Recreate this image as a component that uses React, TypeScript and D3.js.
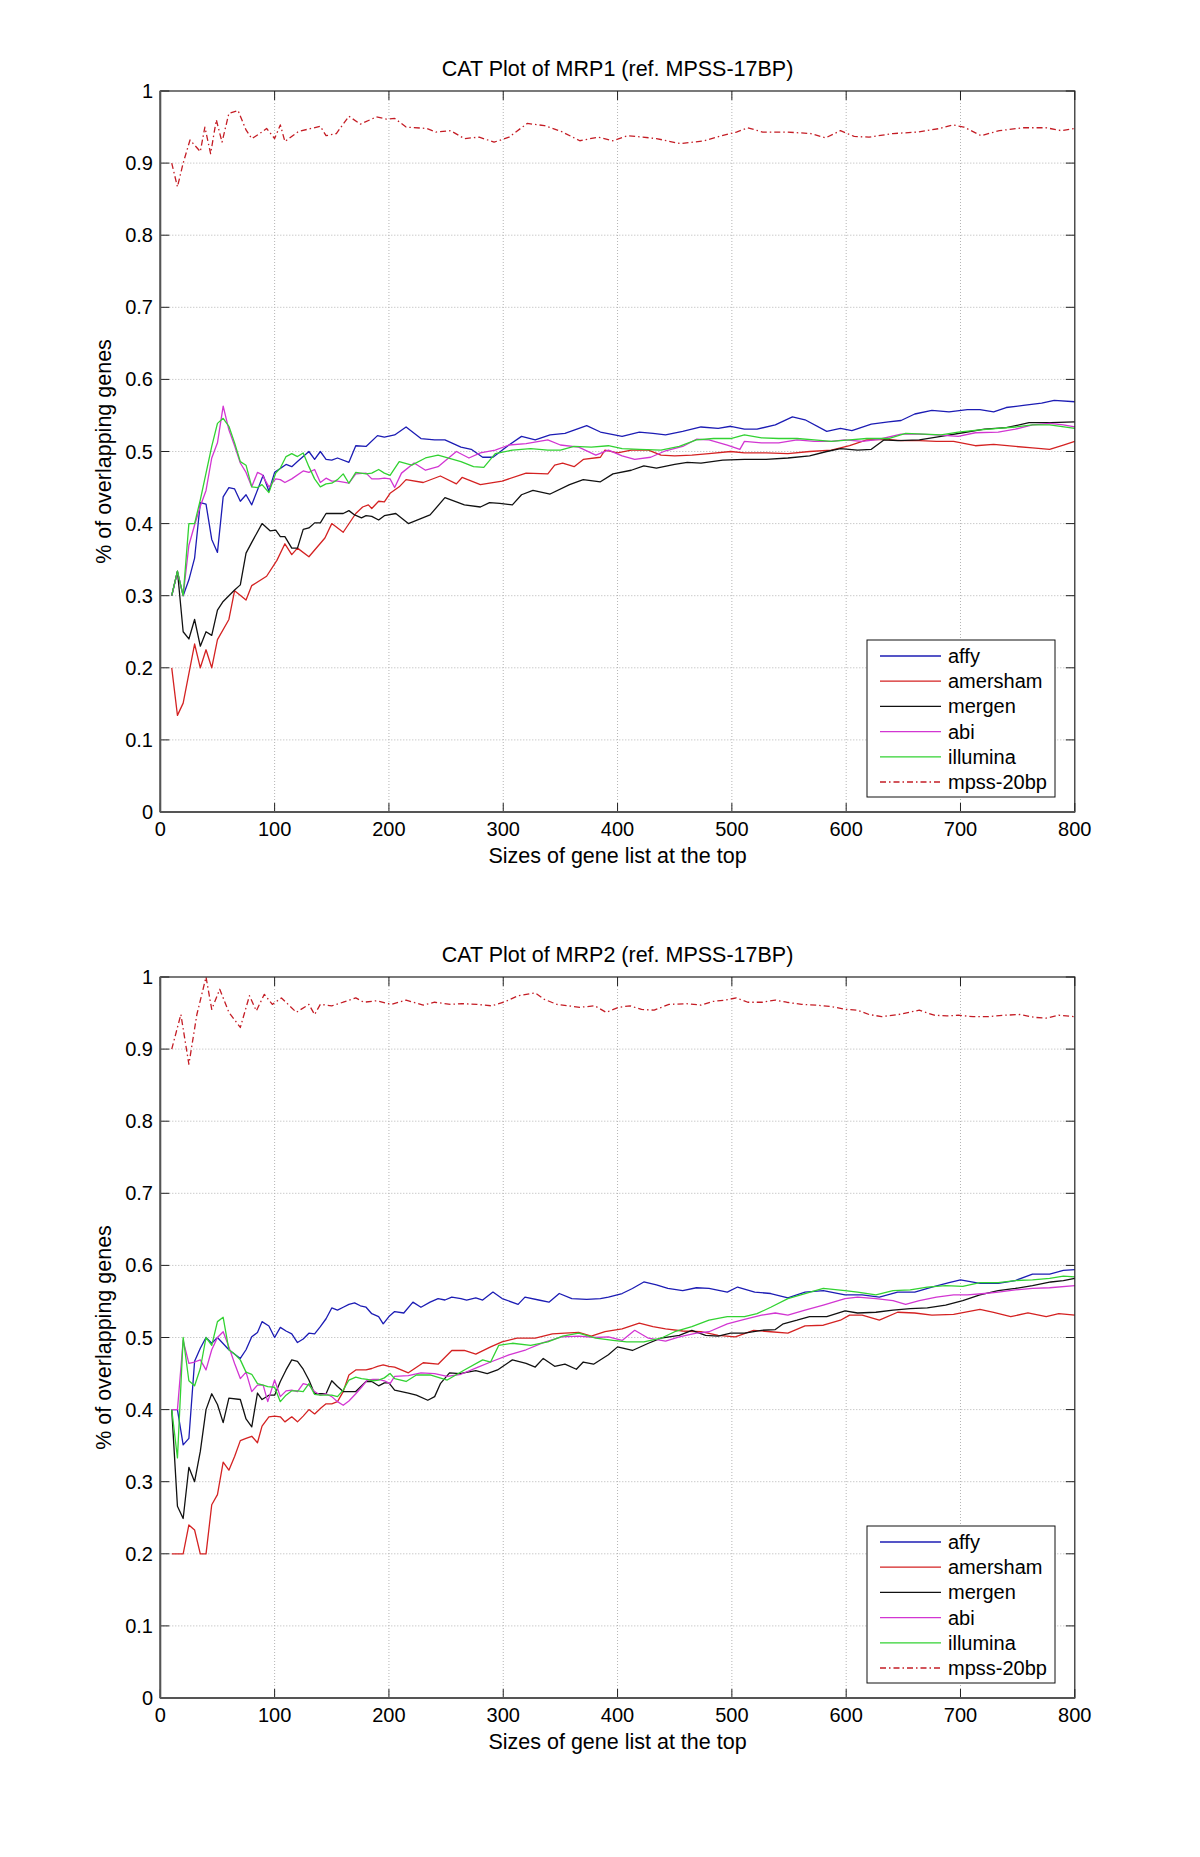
import React from "react";
import * as d3 from "d3";

type Pt = [number, number];

// ---------- axis ticks ----------
const xTickValues = [0, 100, 200, 300, 400, 500, 600, 700, 800];
const yTickValues = [0, 0.1, 0.2, 0.3, 0.4, 0.5, 0.6, 0.7, 0.8, 0.9, 1];
const yTickLabels = ["0", "0.1", "0.2", "0.3", "0.4", "0.5", "0.6", "0.7", "0.8", "0.9", "1"];

// ---------- legend ----------
const seriesNames = ["affy", "amersham", "mergen", "abi", "illumina", "mpss-20bp"];
const seriesColors = ["#1c1cb4", "#d42222", "#111111", "#d236d2", "#32d232", "#c41c24"];

// ---------- MRP1 (top) ----------
const mrp1Affy: Pt[] = [[10,0.3],[15,0.333],[20,0.3],[25,0.322],[30,0.352],[35,0.429],[40,0.427],[45,0.378],[50,0.36],[55,0.437],[60,0.45],[65,0.448],[70,0.431],[75,0.44],[80,0.426],[90,0.467],[95,0.445],[100,0.471],[110,0.482],[115,0.479],[120,0.486],[130,0.5],[135,0.489],[140,0.5],[145,0.489],[150,0.488],[155,0.491],[165,0.485],[171,0.508],[180,0.507],[190,0.522],[196,0.52],[205,0.523],[215,0.534],[228,0.518],[240,0.516],[249,0.516],[263,0.506],[272,0.503],[282,0.492],[291,0.492],[305,0.509],[316,0.521],[328,0.516],[341,0.523],[354,0.525],[373,0.536],[385,0.527],[404,0.521],[419,0.527],[431,0.525],[442,0.523],[457,0.528],[473,0.534],[488,0.532],[499,0.535],[511,0.531],[522,0.531],[538,0.537],[553,0.548],[564,0.544],[583,0.528],[595,0.532],[605,0.529],[622,0.538],[637,0.541],[648,0.543],[660,0.552],[675,0.557],[690,0.555],[706,0.558],[717,0.558],[729,0.555],[740,0.561],[755,0.564],[771,0.567],[782,0.571],[800,0.569]];
const mrp1Amersham: Pt[] = [[10,0.2],[15,0.134],[20,0.151],[30,0.233],[35,0.2],[40,0.225],[45,0.2],[50,0.239],[60,0.267],[65,0.307],[75,0.294],[80,0.314],[93,0.327],[102,0.349],[109,0.372],[115,0.357],[120,0.366],[130,0.354],[144,0.38],[150,0.4],[160,0.388],[171,0.414],[177,0.423],[182,0.426],[185,0.421],[191,0.431],[196,0.43],[201,0.442],[209,0.451],[215,0.461],[230,0.457],[245,0.466],[259,0.455],[264,0.464],[280,0.454],[299,0.459],[320,0.47],[339,0.469],[345,0.481],[352,0.484],[362,0.479],[370,0.489],[385,0.492],[389,0.502],[400,0.498],[412,0.502],[427,0.502],[438,0.495],[450,0.494],[465,0.495],[480,0.497],[499,0.5],[511,0.498],[530,0.498],[549,0.497],[568,0.5],[587,0.502],[603,0.508],[618,0.516],[633,0.517],[648,0.515],[664,0.515],[679,0.514],[694,0.514],[713,0.508],[729,0.51],[748,0.507],[763,0.505],[778,0.503],[790,0.509],[800,0.514]];
const mrp1Mergen: Pt[] = [[10,0.3],[15,0.334],[20,0.25],[25,0.24],[30,0.267],[35,0.23],[40,0.25],[45,0.245],[50,0.28],[55,0.292],[65,0.308],[70,0.315],[75,0.359],[80,0.374],[89,0.4],[96,0.39],[101,0.391],[105,0.382],[109,0.382],[115,0.366],[120,0.366],[125,0.392],[130,0.394],[135,0.401],[140,0.401],[145,0.414],[160,0.414],[165,0.418],[170,0.412],[176,0.408],[180,0.411],[185,0.41],[191,0.405],[196,0.411],[206,0.414],[217,0.4],[236,0.412],[249,0.436],[259,0.43],[266,0.426],[280,0.423],[288,0.429],[297,0.428],[308,0.426],[316,0.44],[326,0.446],[341,0.441],[358,0.454],[370,0.461],[385,0.458],[396,0.469],[412,0.474],[423,0.48],[434,0.477],[450,0.482],[461,0.485],[473,0.484],[492,0.488],[511,0.489],[530,0.489],[549,0.491],[568,0.494],[583,0.5],[595,0.504],[610,0.502],[622,0.503],[633,0.516],[645,0.515],[664,0.516],[683,0.521],[702,0.526],[721,0.531],[740,0.533],[760,0.54],[779,0.54],[800,0.541]];
const mrp1Abi: Pt[] = [[10,0.3],[15,0.333],[20,0.3],[25,0.37],[30,0.398],[35,0.424],[40,0.446],[45,0.491],[50,0.512],[55,0.563],[60,0.53],[65,0.508],[70,0.484],[75,0.471],[80,0.451],[85,0.471],[89,0.468],[95,0.451],[101,0.462],[105,0.461],[109,0.457],[115,0.462],[125,0.473],[130,0.471],[135,0.475],[140,0.457],[145,0.463],[150,0.459],[155,0.459],[165,0.456],[171,0.469],[180,0.47],[185,0.462],[191,0.462],[196,0.463],[201,0.462],[205,0.45],[211,0.47],[222,0.484],[232,0.474],[243,0.479],[259,0.5],[270,0.491],[280,0.498],[293,0.502],[305,0.509],[320,0.511],[339,0.516],[350,0.509],[366,0.506],[381,0.495],[392,0.502],[404,0.494],[415,0.489],[429,0.492],[442,0.501],[457,0.507],[469,0.517],[480,0.516],[496,0.509],[507,0.503],[511,0.514],[526,0.512],[541,0.512],[557,0.516],[572,0.514],[587,0.514],[599,0.516],[614,0.514],[629,0.517],[648,0.524],[664,0.524],[679,0.523],[698,0.521],[713,0.526],[733,0.527],[748,0.531],[763,0.537],[778,0.539],[790,0.537],[800,0.534]];
const mrp1Illumina: Pt[] = [[10,0.3],[15,0.334],[20,0.3],[25,0.4],[30,0.4],[35,0.433],[40,0.47],[45,0.507],[50,0.539],[55,0.546],[60,0.535],[65,0.512],[70,0.486],[75,0.481],[80,0.451],[85,0.45],[89,0.454],[95,0.443],[101,0.47],[105,0.477],[110,0.493],[115,0.497],[120,0.493],[125,0.498],[130,0.479],[135,0.462],[140,0.451],[145,0.455],[150,0.456],[155,0.461],[160,0.469],[165,0.456],[171,0.471],[180,0.469],[185,0.47],[191,0.475],[196,0.47],[201,0.467],[209,0.486],[220,0.481],[232,0.491],[243,0.495],[263,0.486],[274,0.479],[283,0.478],[293,0.497],[308,0.502],[324,0.504],[339,0.502],[350,0.502],[362,0.507],[377,0.506],[392,0.508],[404,0.504],[419,0.503],[438,0.502],[454,0.507],[469,0.516],[484,0.518],[499,0.518],[511,0.523],[526,0.519],[541,0.518],[557,0.518],[572,0.516],[587,0.514],[603,0.516],[618,0.518],[637,0.518],[652,0.525],[668,0.524],[683,0.523],[698,0.527],[717,0.53],[733,0.532],[748,0.534],[763,0.537],[778,0.537],[800,0.532]];
const mrp1Mpss: Pt[] = [[10,0.9],[15,0.867],[20,0.9],[26,0.932],[30,0.925],[35,0.916],[39,0.95],[44,0.913],[49,0.96],[54,0.929],[60,0.969],[68,0.973],[75,0.946],[80,0.934],[87,0.941],[93,0.948],[100,0.934],[105,0.953],[109,0.93],[121,0.944],[140,0.951],[145,0.938],[154,0.941],[165,0.965],[175,0.954],[189,0.964],[198,0.961],[205,0.962],[215,0.95],[233,0.948],[241,0.943],[254,0.945],[266,0.934],[279,0.936],[292,0.929],[305,0.936],[321,0.955],[336,0.952],[352,0.943],[367,0.931],[383,0.936],[396,0.931],[409,0.938],[422,0.936],[434,0.934],[455,0.927],[476,0.931],[491,0.938],[504,0.943],[514,0.949],[527,0.943],[548,0.943],[569,0.941],[582,0.935],[595,0.945],[607,0.937],[620,0.936],[641,0.941],[662,0.943],[682,0.948],[693,0.953],[703,0.95],[718,0.938],[734,0.945],[755,0.949],[775,0.949],[788,0.945],[800,0.948]];

// ---------- MRP2 (bottom) ----------
const mrp2Affy: Pt[] = [[10,0.4],[15,0.4],[20,0.351],[25,0.36],[30,0.467],[35,0.485],[40,0.5],[45,0.492],[50,0.5],[60,0.483],[70,0.471],[75,0.483],[80,0.501],[85,0.507],[89,0.522],[95,0.516],[100,0.5],[105,0.514],[110,0.509],[115,0.505],[120,0.493],[125,0.498],[130,0.506],[135,0.505],[140,0.515],[145,0.526],[150,0.541],[155,0.538],[160,0.542],[165,0.546],[170,0.548],[175,0.544],[180,0.542],[185,0.533],[191,0.529],[195,0.519],[200,0.529],[205,0.536],[213,0.534],[221,0.549],[228,0.542],[236,0.549],[243,0.554],[249,0.552],[255,0.556],[263,0.554],[268,0.552],[276,0.555],[282,0.552],[291,0.563],[299,0.554],[313,0.546],[319,0.556],[331,0.552],[340,0.549],[349,0.561],[360,0.554],[373,0.553],[385,0.554],[392,0.556],[404,0.561],[413,0.568],[423,0.577],[434,0.573],[444,0.568],[457,0.565],[469,0.569],[480,0.568],[496,0.563],[505,0.57],[520,0.563],[534,0.561],[549,0.555],[564,0.563],[580,0.565],[599,0.559],[614,0.559],[629,0.556],[645,0.563],[660,0.563],[675,0.57],[690,0.576],[700,0.58],[717,0.575],[733,0.575],[748,0.579],[763,0.588],[778,0.588],[790,0.593],[800,0.594]];
const mrp2Amersham: Pt[] = [[10,0.2],[15,0.2],[20,0.2],[25,0.24],[30,0.233],[35,0.2],[40,0.2],[45,0.268],[50,0.282],[55,0.327],[60,0.316],[65,0.335],[70,0.357],[75,0.36],[80,0.363],[85,0.354],[89,0.377],[95,0.39],[100,0.391],[105,0.39],[109,0.383],[115,0.39],[120,0.383],[125,0.391],[130,0.4],[135,0.394],[141,0.403],[145,0.408],[150,0.408],[155,0.411],[160,0.425],[165,0.448],[171,0.455],[180,0.455],[185,0.457],[190,0.46],[195,0.462],[200,0.46],[205,0.459],[217,0.451],[230,0.465],[243,0.463],[255,0.482],[266,0.482],[276,0.477],[289,0.487],[299,0.494],[312,0.499],[328,0.499],[343,0.505],[354,0.506],[366,0.507],[377,0.502],[389,0.508],[404,0.512],[419,0.52],[431,0.515],[442,0.512],[457,0.509],[473,0.508],[488,0.503],[503,0.501],[519,0.51],[534,0.508],[549,0.506],[564,0.516],[580,0.517],[595,0.524],[603,0.531],[614,0.531],[629,0.524],[645,0.535],[660,0.534],[675,0.531],[694,0.532],[717,0.539],[729,0.535],[744,0.529],[759,0.534],[775,0.529],[786,0.533],[800,0.531]];
const mrp2Mergen: Pt[] = [[10,0.4],[15,0.266],[20,0.249],[25,0.32],[30,0.3],[35,0.342],[40,0.4],[45,0.422],[50,0.407],[55,0.382],[60,0.416],[70,0.414],[75,0.387],[80,0.376],[85,0.423],[89,0.414],[95,0.42],[100,0.42],[105,0.439],[110,0.455],[115,0.469],[120,0.467],[125,0.456],[130,0.441],[135,0.422],[145,0.422],[150,0.44],[155,0.432],[160,0.425],[171,0.425],[180,0.439],[185,0.439],[191,0.433],[196,0.437],[200,0.437],[205,0.427],[217,0.423],[224,0.42],[234,0.413],[240,0.418],[245,0.436],[253,0.451],[262,0.45],[276,0.454],[286,0.45],[295,0.455],[308,0.469],[320,0.464],[328,0.459],[335,0.471],[345,0.46],[354,0.463],[364,0.456],[370,0.466],[379,0.463],[392,0.476],[400,0.487],[413,0.482],[427,0.492],[438,0.499],[454,0.503],[465,0.51],[477,0.503],[488,0.502],[499,0.506],[511,0.506],[526,0.51],[538,0.511],[545,0.519],[557,0.524],[568,0.529],[583,0.529],[599,0.537],[610,0.534],[626,0.535],[641,0.538],[656,0.54],[671,0.541],[687,0.545],[702,0.551],[717,0.559],[733,0.565],[748,0.568],[763,0.572],[779,0.577],[790,0.579],[800,0.582]];
const mrp2Abi: Pt[] = [[10,0.4],[15,0.4],[20,0.496],[25,0.464],[30,0.466],[35,0.469],[40,0.455],[45,0.483],[50,0.5],[55,0.508],[60,0.487],[65,0.464],[70,0.443],[75,0.452],[80,0.425],[85,0.434],[90,0.434],[94,0.411],[100,0.441],[105,0.418],[110,0.426],[115,0.427],[120,0.425],[125,0.436],[130,0.434],[135,0.425],[140,0.42],[145,0.422],[150,0.418],[155,0.411],[160,0.406],[165,0.412],[171,0.422],[176,0.431],[181,0.441],[186,0.442],[191,0.442],[196,0.44],[201,0.436],[205,0.446],[217,0.447],[228,0.451],[240,0.45],[251,0.446],[263,0.449],[278,0.459],[289,0.466],[305,0.476],[320,0.483],[335,0.493],[351,0.501],[366,0.502],[381,0.5],[392,0.501],[404,0.496],[415,0.51],[427,0.499],[442,0.495],[454,0.501],[469,0.506],[480,0.508],[496,0.519],[511,0.525],[526,0.531],[538,0.534],[549,0.531],[564,0.538],[580,0.545],[599,0.554],[610,0.556],[626,0.554],[641,0.551],[652,0.546],[664,0.551],[679,0.556],[694,0.559],[706,0.559],[721,0.561],[733,0.563],[748,0.566],[763,0.568],[778,0.569],[800,0.572]];
const mrp2Illumina: Pt[] = [[10,0.4],[15,0.333],[20,0.5],[25,0.44],[30,0.433],[35,0.457],[40,0.5],[45,0.489],[50,0.522],[55,0.528],[60,0.483],[65,0.477],[70,0.469],[75,0.452],[80,0.449],[85,0.436],[90,0.434],[94,0.432],[100,0.431],[105,0.411],[110,0.42],[115,0.426],[120,0.426],[125,0.425],[130,0.436],[135,0.421],[140,0.42],[150,0.42],[155,0.418],[160,0.427],[165,0.441],[171,0.445],[176,0.443],[181,0.442],[186,0.44],[191,0.441],[196,0.444],[201,0.45],[205,0.443],[215,0.439],[224,0.448],[236,0.448],[251,0.441],[266,0.455],[282,0.469],[289,0.466],[296,0.489],[308,0.492],[324,0.489],[339,0.494],[352,0.502],[366,0.506],[381,0.499],[396,0.496],[408,0.494],[423,0.494],[438,0.499],[450,0.508],[465,0.515],[480,0.524],[496,0.529],[511,0.529],[522,0.533],[534,0.542],[549,0.554],[564,0.561],[580,0.568],[599,0.565],[610,0.563],[626,0.559],[641,0.565],[656,0.566],[671,0.57],[687,0.572],[702,0.571],[717,0.576],[733,0.576],[748,0.579],[763,0.58],[778,0.582],[790,0.585],[800,0.584]];
const mrp2Mpss: Pt[] = [[10,0.9],[18,0.948],[25,0.879],[32,0.948],[40,1.0],[45,0.955],[52,0.983],[60,0.951],[70,0.93],[78,0.974],[84,0.953],[91,0.976],[98,0.962],[106,0.971],[119,0.951],[130,0.962],[135,0.948],[140,0.962],[150,0.96],[160,0.965],[171,0.971],[178,0.965],[189,0.967],[202,0.962],[215,0.968],[230,0.961],[240,0.965],[254,0.962],[264,0.963],[277,0.962],[290,0.96],[302,0.966],[313,0.974],[328,0.978],[336,0.969],[347,0.962],[357,0.96],[367,0.958],[380,0.96],[390,0.951],[401,0.958],[411,0.96],[421,0.955],[432,0.954],[445,0.962],[460,0.963],[473,0.961],[483,0.966],[494,0.968],[504,0.971],[514,0.965],[527,0.965],[538,0.968],[548,0.965],[561,0.962],[574,0.961],[587,0.959],[600,0.955],[610,0.954],[620,0.948],[631,0.945],[646,0.948],[664,0.954],[677,0.947],[688,0.946],[698,0.947],[711,0.945],[724,0.945],[739,0.947],[752,0.948],[765,0.944],[775,0.943],[786,0.947],[800,0.945]];

const FONT = "'Liberation Sans', Arial, Helvetica, sans-serif";

interface PlotProps {
  title: string;
  top: number;
  series: Pt[][];
}

const LEFT = 160.3;
const RIGHT = 1074.8;
const HEIGHT = 721;

function Plot({ title, top, series }: PlotProps) {
  const bottom = top + HEIGHT;
  const x = d3.scaleLinear().domain([0, 800]).range([LEFT, RIGHT]);
  const y = d3.scaleLinear().domain([0, 1]).range([bottom, top]);
  const line = d3
    .line<Pt>()
    .x((d) => x(d[0]))
    .y((d) => y(d[1]));
  const tickLen = 9;
  const legX = 867;
  const legY = top + 549;
  const legW = 188;
  const legH = 157;
  return (
    <g>
      {/* grid */}
      {xTickValues.slice(1, -1).map((t) => (
        <line key={"gx" + t} x1={x(t)} x2={x(t)} y1={top} y2={bottom} stroke="#b4b4b4" strokeWidth={1} strokeDasharray="1,2" />
      ))}
      {yTickValues.slice(1, -1).map((t) => (
        <line key={"gy" + t} x1={LEFT} x2={RIGHT} y1={y(t)} y2={y(t)} stroke="#b4b4b4" strokeWidth={1} strokeDasharray="1,2" />
      ))}
      {/* series */}
      {series.map((s, i) => (
        <path
          key={"s" + i}
          d={line(s) || ""}
          fill="none"
          stroke={seriesColors[i]}
          strokeWidth={1.3}
          strokeLinejoin="round"
          strokeDasharray={i === 5 ? "6,3,1.5,3" : undefined}
        />
      ))}
      {/* ticks */}
      {xTickValues.map((t) => (
        <g key={"tx" + t}>
          <line x1={x(t)} x2={x(t)} y1={bottom} y2={bottom - tickLen} stroke="#222" />
          <line x1={x(t)} x2={x(t)} y1={top} y2={top + tickLen} stroke="#222" />
          <text x={x(t)} y={bottom + 24} textAnchor="middle" fontSize={20} fontFamily={FONT} fill="#000">
            {t}
          </text>
        </g>
      ))}
      {yTickValues.map((t, i) => (
        <g key={"ty" + t}>
          <line x1={LEFT} x2={LEFT + tickLen} y1={y(t)} y2={y(t)} stroke="#222" />
          <line x1={RIGHT} x2={RIGHT - tickLen} y1={y(t)} y2={y(t)} stroke="#222" />
          <text x={153} y={y(t) + 7} textAnchor="end" fontSize={20} fontFamily={FONT} fill="#000">
            {yTickLabels[i]}
          </text>
        </g>
      ))}
      {/* box */}
      <rect x={LEFT} y={top} width={RIGHT - LEFT} height={HEIGHT} fill="none" stroke="#222" strokeWidth={1.2} />
      <line x1={LEFT} x2={LEFT} y1={top} y2={bottom} stroke="#555" strokeWidth={2} />
      <line x1={LEFT} x2={RIGHT} y1={bottom} y2={bottom} stroke="#555" strokeWidth={2} />
      {/* labels */}
      <text x={(LEFT + RIGHT) / 2} y={top - 15} textAnchor="middle" fontSize={21.5} fontFamily={FONT} fill="#000">
        {title}
      </text>
      <text x={(LEFT + RIGHT) / 2} y={bottom + 51} textAnchor="middle" fontSize={21.5} fontFamily={FONT} fill="#000">
        Sizes of gene list at the top
      </text>
      <text
        transform={`translate(111,${(top + bottom) / 2}) rotate(-90)`}
        textAnchor="middle"
        fontSize={21.5}
        fontFamily={FONT}
        fill="#000"
      >
        % of overlapping genes
      </text>
      {/* legend */}
      <rect x={legX} y={legY} width={legW} height={legH} fill="#fff" stroke="#111" strokeWidth={1} />
      {seriesNames.map((n, i) => {
        const cy = legY + 16 + i * 25.2;
        return (
          <g key={"lg" + n}>
            <line
              x1={880}
              x2={941}
              y1={cy}
              y2={cy}
              stroke={seriesColors[i]}
              strokeWidth={1.3}
              strokeDasharray={i === 5 ? "6,3,1.5,3" : undefined}
            />
            <text x={948} y={cy + 7} fontSize={20} fontFamily={FONT} fill="#000">
              {n}
            </text>
          </g>
        );
      })}
    </g>
  );
}

export default function App() {
  return (
    <svg
      width={1200}
      height={1857}
      viewBox="0 0 1200 1857"
      style={{ position: "absolute", left: 0, top: 0, display: "block", background: "#fff" }}
    >
      <rect x={0} y={0} width={1200} height={1857} fill="#fff" />
      <Plot
        title="CAT Plot of MRP1 (ref. MPSS-17BP)"
        top={91}
        series={[mrp1Affy, mrp1Amersham, mrp1Mergen, mrp1Abi, mrp1Illumina, mrp1Mpss]}
      />
      <Plot
        title="CAT Plot of MRP2 (ref. MPSS-17BP)"
        top={977}
        series={[mrp2Affy, mrp2Amersham, mrp2Mergen, mrp2Abi, mrp2Illumina, mrp2Mpss]}
      />
    </svg>
  );
}
